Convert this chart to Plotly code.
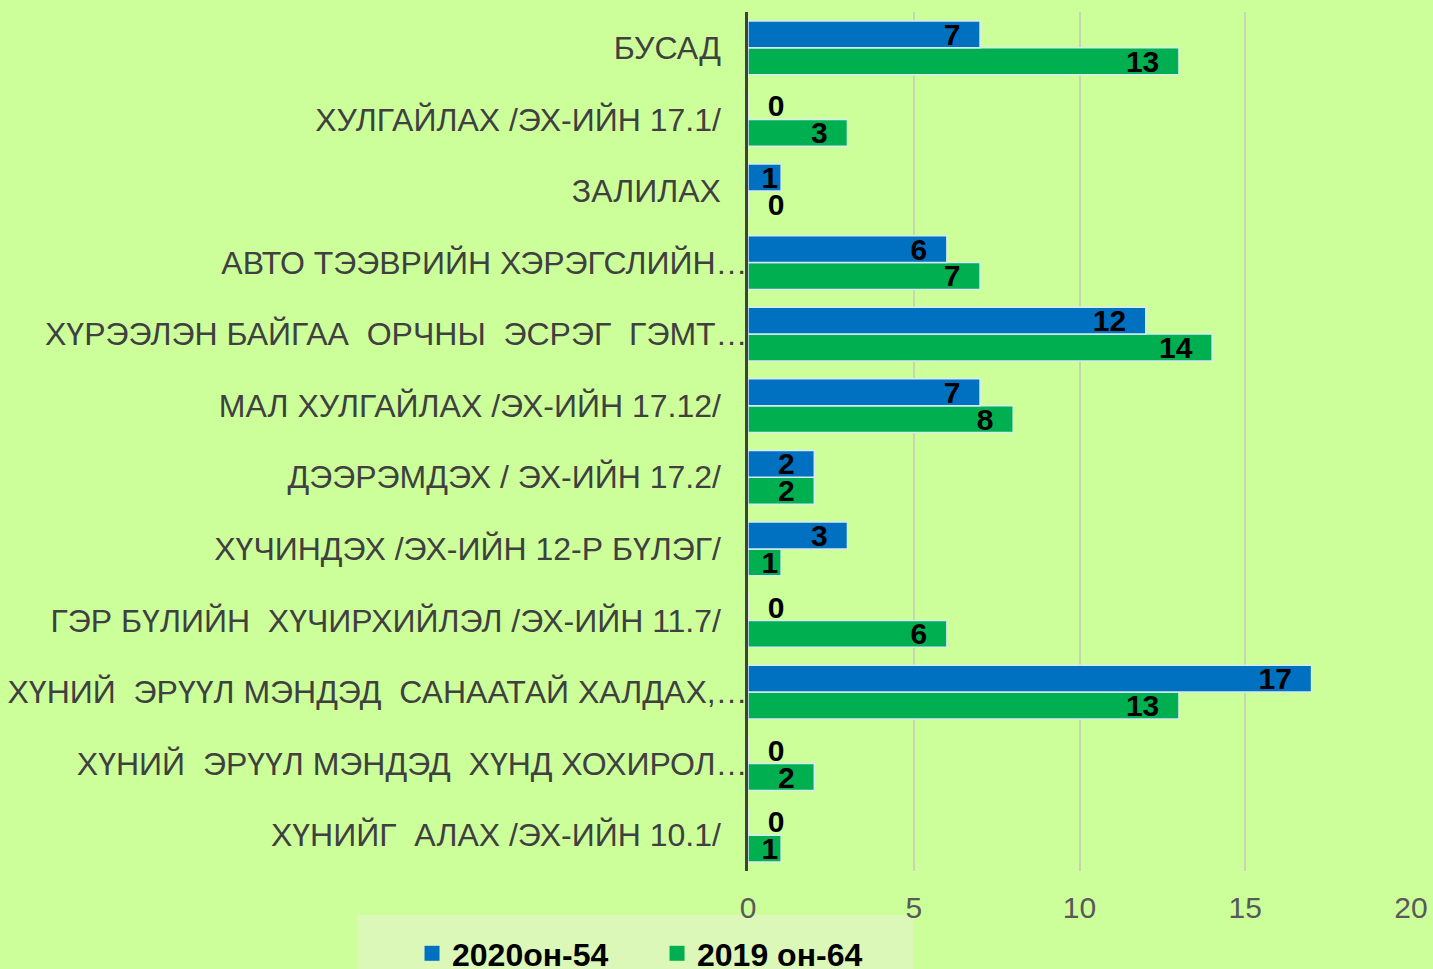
import plotly.graph_objects as go

# categories listed bottom to top (plotly draws the first category at the bottom)
categories = [
    "ХҮНИЙГ  АЛАХ /ЭХ-ИЙН 10.1/",
    "ХҮНИЙ  ЭРҮҮЛ МЭНДЭД  ХҮНД ХОХИРОЛ…",
    "ХҮНИЙ  ЭРҮҮЛ МЭНДЭД  САНААТАЙ ХАЛДАХ,…",
    "ГЭР БҮЛИЙН  ХҮЧИРХИЙЛЭЛ /ЭХ-ИЙН 11.7/",
    "ХҮЧИНДЭХ /ЭХ-ИЙН 12-Р БҮЛЭГ/",
    "ДЭЭРЭМДЭХ / ЭХ-ИЙН 17.2/",
    "МАЛ ХУЛГАЙЛАХ /ЭХ-ИЙН 17.12/",
    "ХҮРЭЭЛЭН БАЙГАА  ОРЧНЫ  ЭСРЭГ  ГЭМТ…",
    "АВТО ТЭЭВРИЙН ХЭРЭГСЛИЙН…",
    "ЗАЛИЛАХ",
    "ХУЛГАЙЛАХ /ЭХ-ИЙН 17.1/",
    "БУСАД",
]
values_2020 = [0, 0, 17, 0, 3, 2, 7, 12, 6, 1, 0, 7]
values_2019 = [1, 2, 13, 6, 1, 2, 8, 14, 7, 0, 3, 13]

name_2020 = "2020он-54"
name_2019 = "2019 он-64"

BLUE = "#0070C0"
GREEN = "#00B050"
BG = "#CCFF99"
FONT = "Liberation Sans, Arial, sans-serif"


def tick_label(label):
    # keep double spaces visible; pad labels that Excel did not truncate
    text = label.replace("  ", "\u00a0 ")
    if not label.endswith("…"):
        text += "\u00a0\u00a0\u00a0"
    return text


def text_setup(values):
    positions = ["inside" if v > 0 else "outside" for v in values]
    templates = ["%{x}\u00a0\u00a0" if v > 1 else "\u00a0\u00a0%{x}" if v == 0 else "%{x}"
                 for v in values]
    return positions, templates


fig = go.Figure()

for name, values, color in [
    (name_2019, values_2019, GREEN),
    (name_2020, values_2020, BLUE),
]:
    positions, templates = text_setup(values)
    fig.add_trace(go.Bar(
        name=name,
        y=categories,
        x=values,
        orientation="h",
        marker=dict(color=color, line=dict(color="#d6ecf0", width=1.5)),
        texttemplate=templates,
        textposition=positions,
        textangle=0,
        insidetextanchor="end",
        constraintext="none",
        cliponaxis=False,
        textfont=dict(family=FONT, size=30, color="black", weight="bold"),
        showlegend=False,
    ))

# legend entries with square markers like the Excel legend
for name, color, rank in [(name_2020, BLUE, 1), (name_2019, GREEN, 2)]:
    fig.add_trace(go.Scatter(
        x=[None],
        y=[None],
        mode="markers",
        name=name,
        marker=dict(symbol="square", size=15, color=color),
        legendrank=rank,
        showlegend=True,
    ))

fig.update_layout(
    width=1433,
    height=969,
    barmode="group",
    bargap=0.25,
    bargroupgap=0,
    paper_bgcolor=BG,
    plot_bgcolor=BG,
    margin=dict(l=748, r=22, t=12, b=98, autoexpand=False),
    font=dict(family=FONT, size=32, color="#404040"),
    uniformtext=dict(minsize=30, mode="show"),
    showlegend=True,
    legend=dict(
        orientation="h",
        xref="container",
        yref="container",
        x=0.4585,
        y=0.016,
        xanchor="center",
        yanchor="middle",
        bgcolor="rgba(0,0,0,0)",
        font=dict(family=FONT, size=32, color="black", weight="bold"),
        itemwidth=30,
        entrywidth=200,
    ),
    shapes=[
        dict(
            type="rect",
            xref="paper",
            yref="paper",
            x0=(357 - 748) / 663,
            x1=(913 - 748) / 663,
            y0=-0.0512,
            y1=-0.12,
            fillcolor="#DCF8B8",
            line=dict(width=0),
            layer="below",
        )
    ],
)

fig.update_xaxes(
    range=[0, 20],
    dtick=5,
    showgrid=True,
    gridcolor="#C5D6B0",
    gridwidth=1.5,
    zeroline=False,
    showline=False,
    automargin=False,
    tickfont=dict(size=30, color="#595959"),
    ticklabelstandoff=16,
)

fig.update_yaxes(
    tickvals=categories,
    ticktext=[tick_label(c) for c in categories],
    showline=True,
    linecolor="#404040",
    linewidth=3,
    ticks="",
    automargin=False,
    ticklabelstandoff=-9,
    tickfont=dict(size=32, color="#404040"),
)

fig.write_html(
    "out.html",
    config={"displayModeBar": False},
    post_script="document.body.style.margin='0';",
)
